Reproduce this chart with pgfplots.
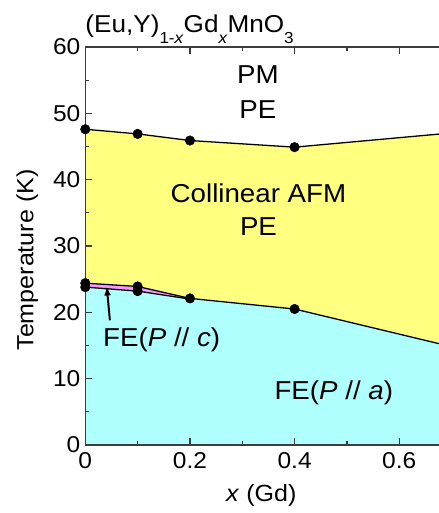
\documentclass[border=0pt]{standalone}
\usepackage{fontspec}
\setmainfont[FakeStretch=1.07]{Liberation Sans}
\usepackage{pgfplots}
\pgfplotsset{compat=1.18}
\usetikzlibrary{arrows.meta}
\definecolor{afmyellow}{RGB}{255,255,128}
\definecolor{fecyan}{RGB}{176,255,255}
\definecolor{fepink}{RGB}{255,150,255}
\definecolor{axisgray}{RGB}{60,60,60}
\newcommand{\regionfont}{\fontsize{26}{30}\selectfont}
\newcommand{\tsub}[1]{\raisebox{-11bp}{\fontsize{16}{16}\selectfont #1}}
\begin{document}
\begin{tikzpicture}
\begin{axis}[
    at={(0,0)}, anchor=south west,
    scale only axis,
    width=353.7bp, height=398bp,
    xmin=0, xmax=0.676,
    ymin=0, ymax=60,
    axis x line=box,
    axis y line=left,
    axis line style={-, line width=1.5pt, axisgray},
    xtick={0,0.2,0.4,0.6},
    minor xtick={0.1,0.3,0.5},
    ytick={0,10,20,30,40,50,60},
    minor ytick={5,15,25,35,45,55},
    tick align=inside,
    major tick length=7bp, minor tick length=4bp,
    tick style={line width=1.2pt, axisgray},
    xticklabel style={/pgf/number format/fixed, /pgf/number format/precision=1,
        font=\fontsize{23}{25}\selectfont, yshift=-4pt},
    yticklabel style={font=\fontsize{23}{25}\selectfont, xshift=-1.5pt},
    /pgf/number format/assume math mode=true,
    clip=true,
    axis on top,
]
% FE(P // a) region
\addplot[draw=none, fill=fecyan] coordinates {
    (0,0) (0,23.8) (0.1,23.2) (0.2,22.0) (0.4,20.5) (0.68,15.2) (0.68,0)
} -- cycle;
% Collinear AFM region
\addplot[draw=none, fill=afmyellow] coordinates {
    (0,24.4) (0.1,23.9) (0.2,22.1) (0.4,20.5) (0.68,15.2)
    (0.68,46.9) (0.4,44.9) (0.2,45.9) (0.1,46.9) (0,47.6)
} -- cycle;
% FE(P // c) region
\addplot[draw=none, fill=fepink] coordinates {
    (0,24.4) (0.1,23.9) (0.2,22.1) (0.2,22.0) (0.1,23.2) (0,23.8)
} -- cycle;
% boundaries
\addplot[black, line width=1.3pt] coordinates {
    (0,47.6) (0.1,46.9) (0.2,45.9) (0.4,44.9) (0.68,46.9)
};
\addplot[black, line width=1.3pt] coordinates {
    (0,24.4) (0.1,23.9) (0.2,22.1) (0.4,20.5) (0.68,15.2)
};
\addplot[black, line width=1.3pt] coordinates {
    (0,23.8) (0.1,23.2) (0.2,22.0)
};
% data points
\addplot[only marks, mark=*, mark size=4.8bp, black] coordinates {
    (0,47.6) (0.1,46.9) (0.2,45.9) (0.4,44.9)
    (0,24.4) (0,23.8) (0.1,23.9) (0.1,23.2) (0.2,22.1) (0.4,20.5)
};
\draw[-{Latex[length=9bp,width=7bp]}, line width=2pt] (axis cs:0.047,18.8) -- (axis cs:0.041,23.9);
\node[font=\regionfont, anchor=base] at (axis cs:0.33,54.5) {PM};
\node[font=\regionfont, anchor=base] at (axis cs:0.33,49.25) {PE};
\node[font=\regionfont, anchor=base] at (axis cs:0.331,36.5) {Collinear AFM};
\node[font=\regionfont, anchor=base] at (axis cs:0.331,31.6) {PE};
\node[font=\regionfont, anchor=base] at (axis cs:0.146,14.9) {FE(\textit{P} // \textit{c})};
\node[font=\regionfont, anchor=base] at (axis cs:0.475,6.8) {FE(\textit{P} // \textit{a})};
\end{axis}
\node[anchor=base west, font=\fontsize{24.5}{26}\selectfont, inner sep=0pt] at (0bp,412bp)
    {(Eu,Y)\tsub{1-\textit{x}}Gd\tsub{\textit{x}}MnO\tsub{3}};
\node[rotate=90, anchor=base, font=\fontsize{23.5}{26}\selectfont, inner sep=0pt] at (-52bp,185bp) {Temperature (K)};
\node[anchor=base, font=\fontsize{23.5}{26}\selectfont, inner sep=0pt] at (176bp,-56bp) {\textit{x} (Gd)};
\pgfresetboundingbox
\useasboundingbox (-85.3bp,-68bp) rectangle (353.7bp,445bp);
\end{tikzpicture}
\end{document}
